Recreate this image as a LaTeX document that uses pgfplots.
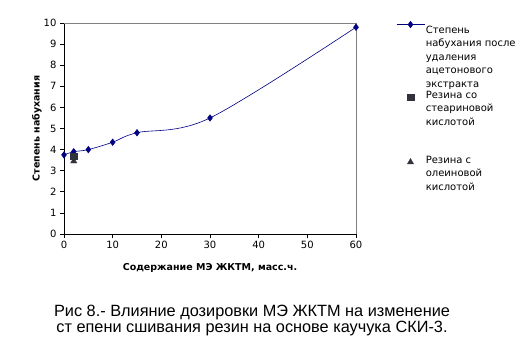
\documentclass[border=0pt]{standalone}
\usepackage{fontspec}
\setmainfont{DejaVu Sans}
\newfontfamily\capfont{Liberation Sans}
\usepackage{pgfplots}
\pgfplotsset{compat=1.18}
\pgfplotsset{padimg/.style={legend image code/.code={\path[draw=none,fill=none] (0pt,-11pt) (28pt,0pt);\draw[mark repeat=2,mark phase=2,##1] plot coordinates {(0pt,-7.5pt) (14pt,-7.5pt) (28pt,-7.5pt)};}}}
\definecolor{navy}{RGB}{0,0,128}
\definecolor{mgray}{RGB}{50,50,60}
\definecolor{fgray}{RGB}{128,128,128}
\begin{document}
\begin{tikzpicture}[x=1pt,y=1pt]
\path[use as bounding box] (0,0) rectangle (531,357);
\begin{axis}[
  at={(64pt,123pt)}, anchor=south west,
  scale only axis, width=292pt, height=211pt,
  xmin=0, xmax=60, ymin=0, ymax=10,
  axis x line*=bottom, axis y line*=left,
  axis line style={black, line width=0.8pt},
  xtick={0,10,...,60}, ytick={0,1,...,10},
  tick align=outside, major tick length=4pt,
  tick style={black, line width=0.8pt},
  /pgf/number format/assume math mode=true,
  tick label style={font=\fontsize{10}{12}\selectfont},
  xlabel={Содержание МЭ ЖКТМ, масс.ч.},
  ylabel={Степень набухания},
  xlabel style={font=\fontsize{9.5}{11}\selectfont\bfseries, at={(axis description cs:0.5,-0.161)}, anchor=center},
  ylabel style={font=\fontsize{9.5}{11}\selectfont\bfseries, at={(axis description cs:-0.0925,0.5)}, anchor=center},
  clip=false,
  legend image code/.code={\path[draw=none,fill=none] (0pt,-3pt) (28pt,4.5pt);\draw[mark repeat=2,mark phase=2,#1] plot coordinates {(0pt,0pt) (14pt,0pt) (28pt,0pt)};},
  legend cell align=left,
  legend style={draw=none, fill=none, at={(rel axis cs:1.137,1.015)}, anchor=north west,
    font=\fontsize{10}{13.5}\selectfont, inner sep=0pt, row sep=0pt,
    nodes={align=left, inner sep=1pt},
    cells={anchor=north west}},
]
\addplot[navy, line width=0.6pt, smooth, tension=0.55, mark=diamond*, mark size=3.2pt, mark options={solid, fill=navy}]
  coordinates {(0,3.75) (2,3.9) (5,4.0) (10,4.35) (15,4.8) (30,5.5) (60,9.8)};
\addlegendentry{Степень\\набухания после\\удаления\\ацетонового\\экстракта}
\addplot[only marks, mark=square*, mark size=3.2pt, color=mgray, fill=mgray, padimg]
  coordinates {(2,3.7)};
\addlegendentry{Резина со\\стеариновой\\кислотой\\\mbox{}\\\mbox{}}
\addplot[only marks, mark=triangle*, mark size=3.6pt, color=mgray, fill=mgray, padimg]
  coordinates {(2,3.45)};
\addlegendentry{Резина с\\олеиновой\\кислотой}
\draw[fgray, line width=0.8pt] (rel axis cs:0,1) -- (rel axis cs:1,1) -- (rel axis cs:1,0);
\end{axis}
\node[anchor=base, font=\capfont\fontsize{16.3}{16}\selectfont, inner sep=0pt] at (252,41) {Рис 8.- Влияние дозировки МЭ ЖКТМ на изменение};
\node[anchor=base, font=\capfont\fontsize{16.3}{16}\selectfont, inner sep=0pt] at (252,25) {ст епени сшивания резин на основе каучука СКИ-3.};
\end{tikzpicture}
\end{document}
